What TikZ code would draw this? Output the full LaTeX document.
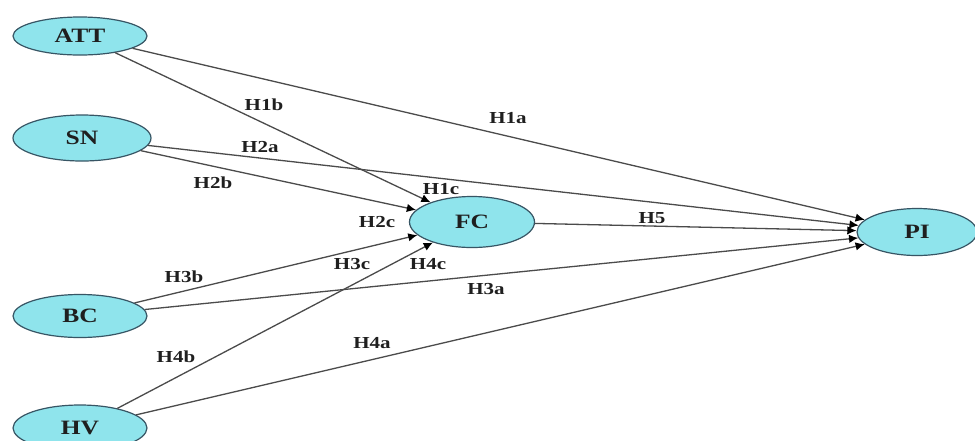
\documentclass[tikz,border=0pt]{standalone}
\usepackage{fontspec}
\newfontfamily\diagfont[FakeStretch=1.25]{Liberation Serif}
\usetikzlibrary{shapes.geometric,arrows.meta}
\definecolor{construct}{RGB}{143,228,236}
\definecolor{rim}{RGB}{55,85,100}
\definecolor{path}{RGB}{75,75,75}
\tikzset{
  construct/.style={ellipse, draw=rim, line width=0.6pt, fill=construct, inner sep=0pt,
    font=\diagfont\bfseries\fontsize{10.2}{12}\selectfont, text=black!88},
  hyp/.style={font=\diagfont\bfseries\fontsize{8.4}{10}\selectfont, text=black!88, inner sep=0pt},
  link/.style={draw=path, line width=0.65pt, -{Latex[length=4.6pt,width=4.2pt,color=black,fill=black]}},
}
\begin{document}
\begin{tikzpicture}[x=0.5pt,y=-0.5pt]
\path[use as bounding box] (0,0) rectangle (975,440);
\clip (0,0) rectangle (975,440);
\fill[white] (0,0) rectangle (975,440);

% constructs (sizes in pt: one drawing unit is 0.5pt)
\node[construct, minimum width=67pt, minimum height=19pt] (att) at (80,36) {ATT};
\node[construct, minimum width=69pt, minimum height=23pt] (sn) at (82,138) {SN};
\node[construct, minimum width=67pt, minimum height=21.5pt] (bc) at (80,316) {BC};
\node[construct, minimum width=67pt, minimum height=23pt] (hv) at (80,428) {HV};
\node[construct, minimum width=62.5pt, minimum height=25.5pt] (fc) at (472,222) {FC};
\node[construct, minimum width=60pt, minimum height=23.5pt] (pi) at (917,232) {PI};

% hypothesised paths
\draw[link] (att) -- (pi);
\draw[link] (att) -- (fc);
\draw[link] (sn) -- (pi);
\draw[link] (sn) -- (fc);
\draw[link] (bc) -- (fc);
\draw[link] (bc) -- (pi);
\draw[link] (hv) -- (fc);
\draw[link] (hv) -- (pi);
\draw[link] (fc) -- (pi);

% hypothesis labels
\node[hyp] (h1a) at (508,118) {H1a};
\node[hyp] (h1b) at (264,105) {H1b};
\node[hyp] (h1c) at (441,189) {H1c};
\node[hyp] (h2a) at (260,147) {H2a};
\node[hyp] (h2b) at (213,183) {H2b};
\node[hyp] (h2c) at (377,222) {H2c};
\node[hyp] (h3a) at (486,289) {H3a};
\node[hyp] (h3b) at (184,277) {H3b};
\node[hyp] (h3c) at (352,264) {H3c};
\node[hyp] (h4a) at (372,343) {H4a};
\node[hyp] (h4b) at (176,357) {H4b};
\node[hyp] (h4c) at (428,264) {H4c};
\node[hyp] (h5)  at (652,218) {H5};
\end{tikzpicture}
\end{document}
